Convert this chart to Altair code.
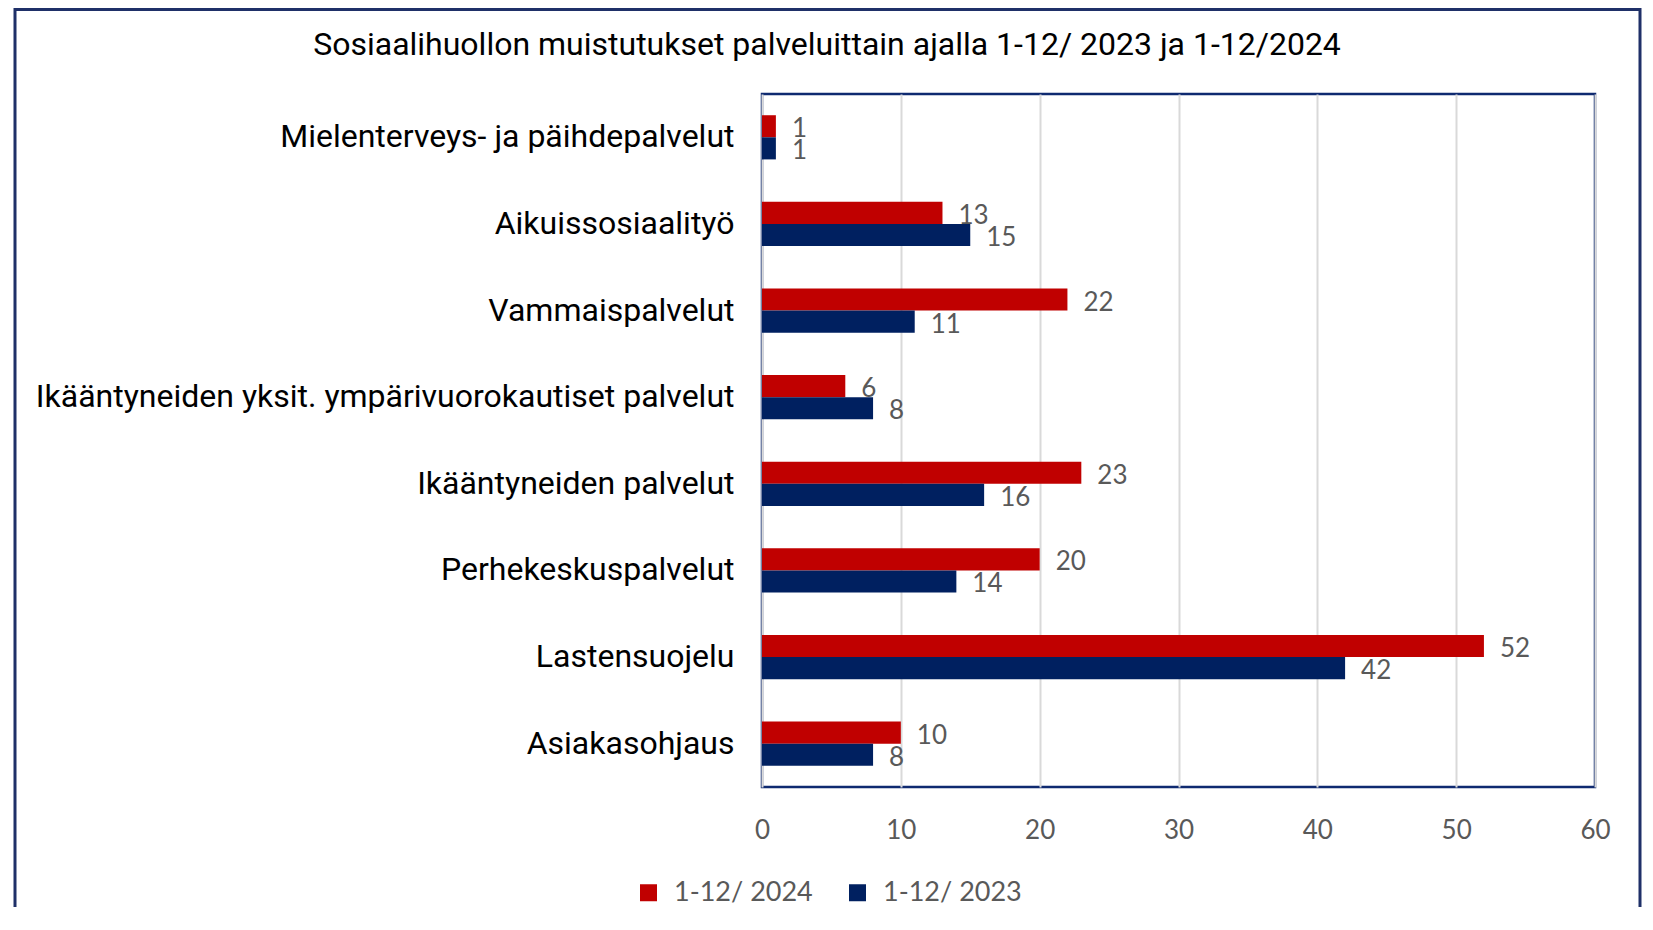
import altair as alt
import pandas as pd

categories = [
    "Mielenterveys- ja päihdepalvelut ",
    "Aikuissosiaalityö",
    "Vammaispalvelut",
    "Ikääntyneiden yksit. ympärivuorokautiset palvelut",
    "Ikääntyneiden palvelut",
    "Perhekeskuspalvelut",
    "Lastensuojelu",
    "Asiakasohjaus",
]
series = ["1-12/ 2024", "1-12/ 2023"]
values_2024 = [1, 13, 22, 6, 23, 20, 52, 10]
values_2023 = [1, 15, 11, 8, 16, 14, 42, 8]
colors = ["#C00000", "#002060"]
x_ticks = [0, 10, 20, 30, 40, 50, 60]
title_text = "Sosiaalihuollon muistutukset palveluittain ajalla 1-12/ 2023 ja 1-12/2024"

rows = []
for c, a, b in zip(categories, values_2024, values_2023):
    rows.append({"Palvelu": c, "Vuosi": series[0], "Määrä": a})
    rows.append({"Palvelu": c, "Vuosi": series[1], "Määrä": b})
df = pd.DataFrame(rows)

W, H = 833, 693

y_enc = alt.Y(
    "Palvelu:N",
    sort=categories,
    scale=alt.Scale(paddingInner=0.49, paddingOuter=0.245),
    axis=alt.Axis(
        title=None, ticks=False, domain=False, labelFont="Roboto",
        labelFontSize=32, labelColor="#000000", labelPadding=28, labelLimit=900,
    ),
)
yoff = alt.YOffset("Vuosi:N", sort=series, scale=alt.Scale(domain=series, paddingInner=0, paddingOuter=0))
x_enc = alt.X(
    "Määrä:Q",
    scale=alt.Scale(domain=[0, 60], nice=False),
    axis=alt.Axis(
        title=None, values=x_ticks, ticks=False, domain=False, grid=True,
        gridColor="#D9D9D9", gridWidth=2, labelFont="Lato", labelFontSize=26,
        labelColor="#595959", labelPadding=30, labelFlush=False,
    ),
)

base = alt.Chart(df)
bars = base.mark_bar().encode(
    y=y_enc, yOffset=yoff, x=x_enc,
    color=alt.Color(
        "Vuosi:N",
        scale=alt.Scale(domain=series, range=colors),
        legend=alt.Legend(
            orient="none", legendX=-127, legendY=785, direction="horizontal",
            title=None, symbolType="square", symbolSize=289, symbolStrokeWidth=0,
            labelFont="Lato", labelFontSize=27, labelColor="#595959",
            columnPadding=31, labelOffset=12, padding=0,
        ),
    ),
)
labels = base.mark_text(
    align="left", baseline="middle", dx=16, dy=3, font="Lato", fontSize=26, color="#595959"
).encode(
    y=alt.Y("Palvelu:N", sort=categories), yOffset=alt.YOffset("Vuosi:N", sort=series),
    x="Määrä:Q", text="Määrä:Q",
)

title = alt.Chart(pd.DataFrame({"t": [title_text]})).mark_text(
    font="Roboto", fontSize=32, color="#000000", align="center", baseline="middle"
).encode(text="t:N", x=alt.value(65), y=alt.value(-49))

frame = alt.Chart(pd.DataFrame({"f": [0]})).mark_rect(
    fillOpacity=0, stroke="#1F3068", strokeWidth=3
).encode(x=alt.value(-747), x2=alt.value(878), y=alt.value(-84.5), y2=alt.value(900))

chart = alt.layer(frame, bars, labels, title).properties(
    width=W, height=H,
    autosize=alt.AutoSizeParams(type="none"),
    padding={"left": 754, "top": 86, "right": 48, "bottom": 120},
).configure_view(stroke="#0F2A70", strokeWidth=2.5)

chart.save("out.html", embed_options={"renderer": "svg", "actions": False})
